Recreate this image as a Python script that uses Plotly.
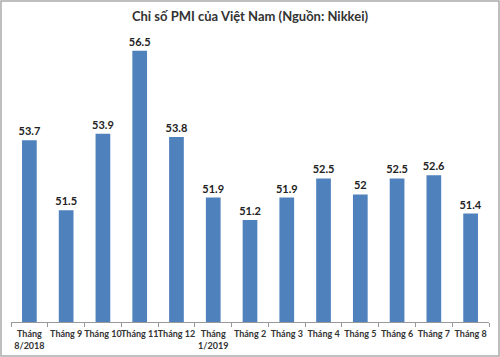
import plotly.graph_objects as go

categories = ["Tháng<br>8/2018", "Tháng 9", "Tháng 10", "Tháng 11", "Tháng 12", "Tháng<br>1/2019",
              "Tháng 2", "Tháng 3", "Tháng 4", "Tháng 5", "Tháng 6", "Tháng 7", "Tháng 8"]
values = [53.7, 51.5, 53.9, 56.5, 53.8, 51.9, 51.2, 51.9, 52.5, 52, 52.5, 52.6, 51.4]
labels = ["53.7", "51.5", "53.9", "56.5", "53.8", "51.9", "51.2", "51.9", "52.5", "52", "52.5", "52.6", "51.4"]

FONT = "Lato"

fig = go.Figure(go.Bar(
    x=categories, y=values, text=labels, textposition="outside",
    constraintext="none",
    marker=dict(color="#4F81BD", line=dict(width=0)),
    textfont=dict(family=FONT, size=11, color="#222222", weight="bold"),
    cliponaxis=False,
))

fig.update_layout(
    width=500, height=357,
    margin=dict(l=11, r=11, t=40, b=35, autoexpand=False),
    paper_bgcolor="white", plot_bgcolor="white",
    bargap=0.6,
    showlegend=False,
    title=dict(text="<b>Chỉ số PMI của Việt Nam (Nguồn: Nikkei)</b>", x=0.5, xanchor="center",
               y=0.955, yanchor="middle",
               font=dict(family=FONT, size=13, color="#333333")),
    shapes=[dict(type="rect", xref="paper", yref="paper", x0=-10/478, x1=1+10/478,
                 y0=-34/282, y1=1+39/282,
                 line=dict(color="#AAAAAA", width=1.5), fillcolor="rgba(0,0,0,0)", layer="below")],
)
fig.update_xaxes(
    type="category", tickson="boundaries", ticks="outside", ticklen=4, tickcolor="#999999",
    showline=True, linecolor="#999999", linewidth=1, automargin=False, ticklabelstandoff=3,
    tickfont=dict(family=FONT, size=9, color="#333333", weight="bold"), tickangle=0,
)
fig.update_yaxes(range=[48, 56.84], visible=False, showgrid=False, automargin=False)

fig.write_html("out.html", config={"displayModeBar": False},
               post_script="document.body.style.margin='0';")
